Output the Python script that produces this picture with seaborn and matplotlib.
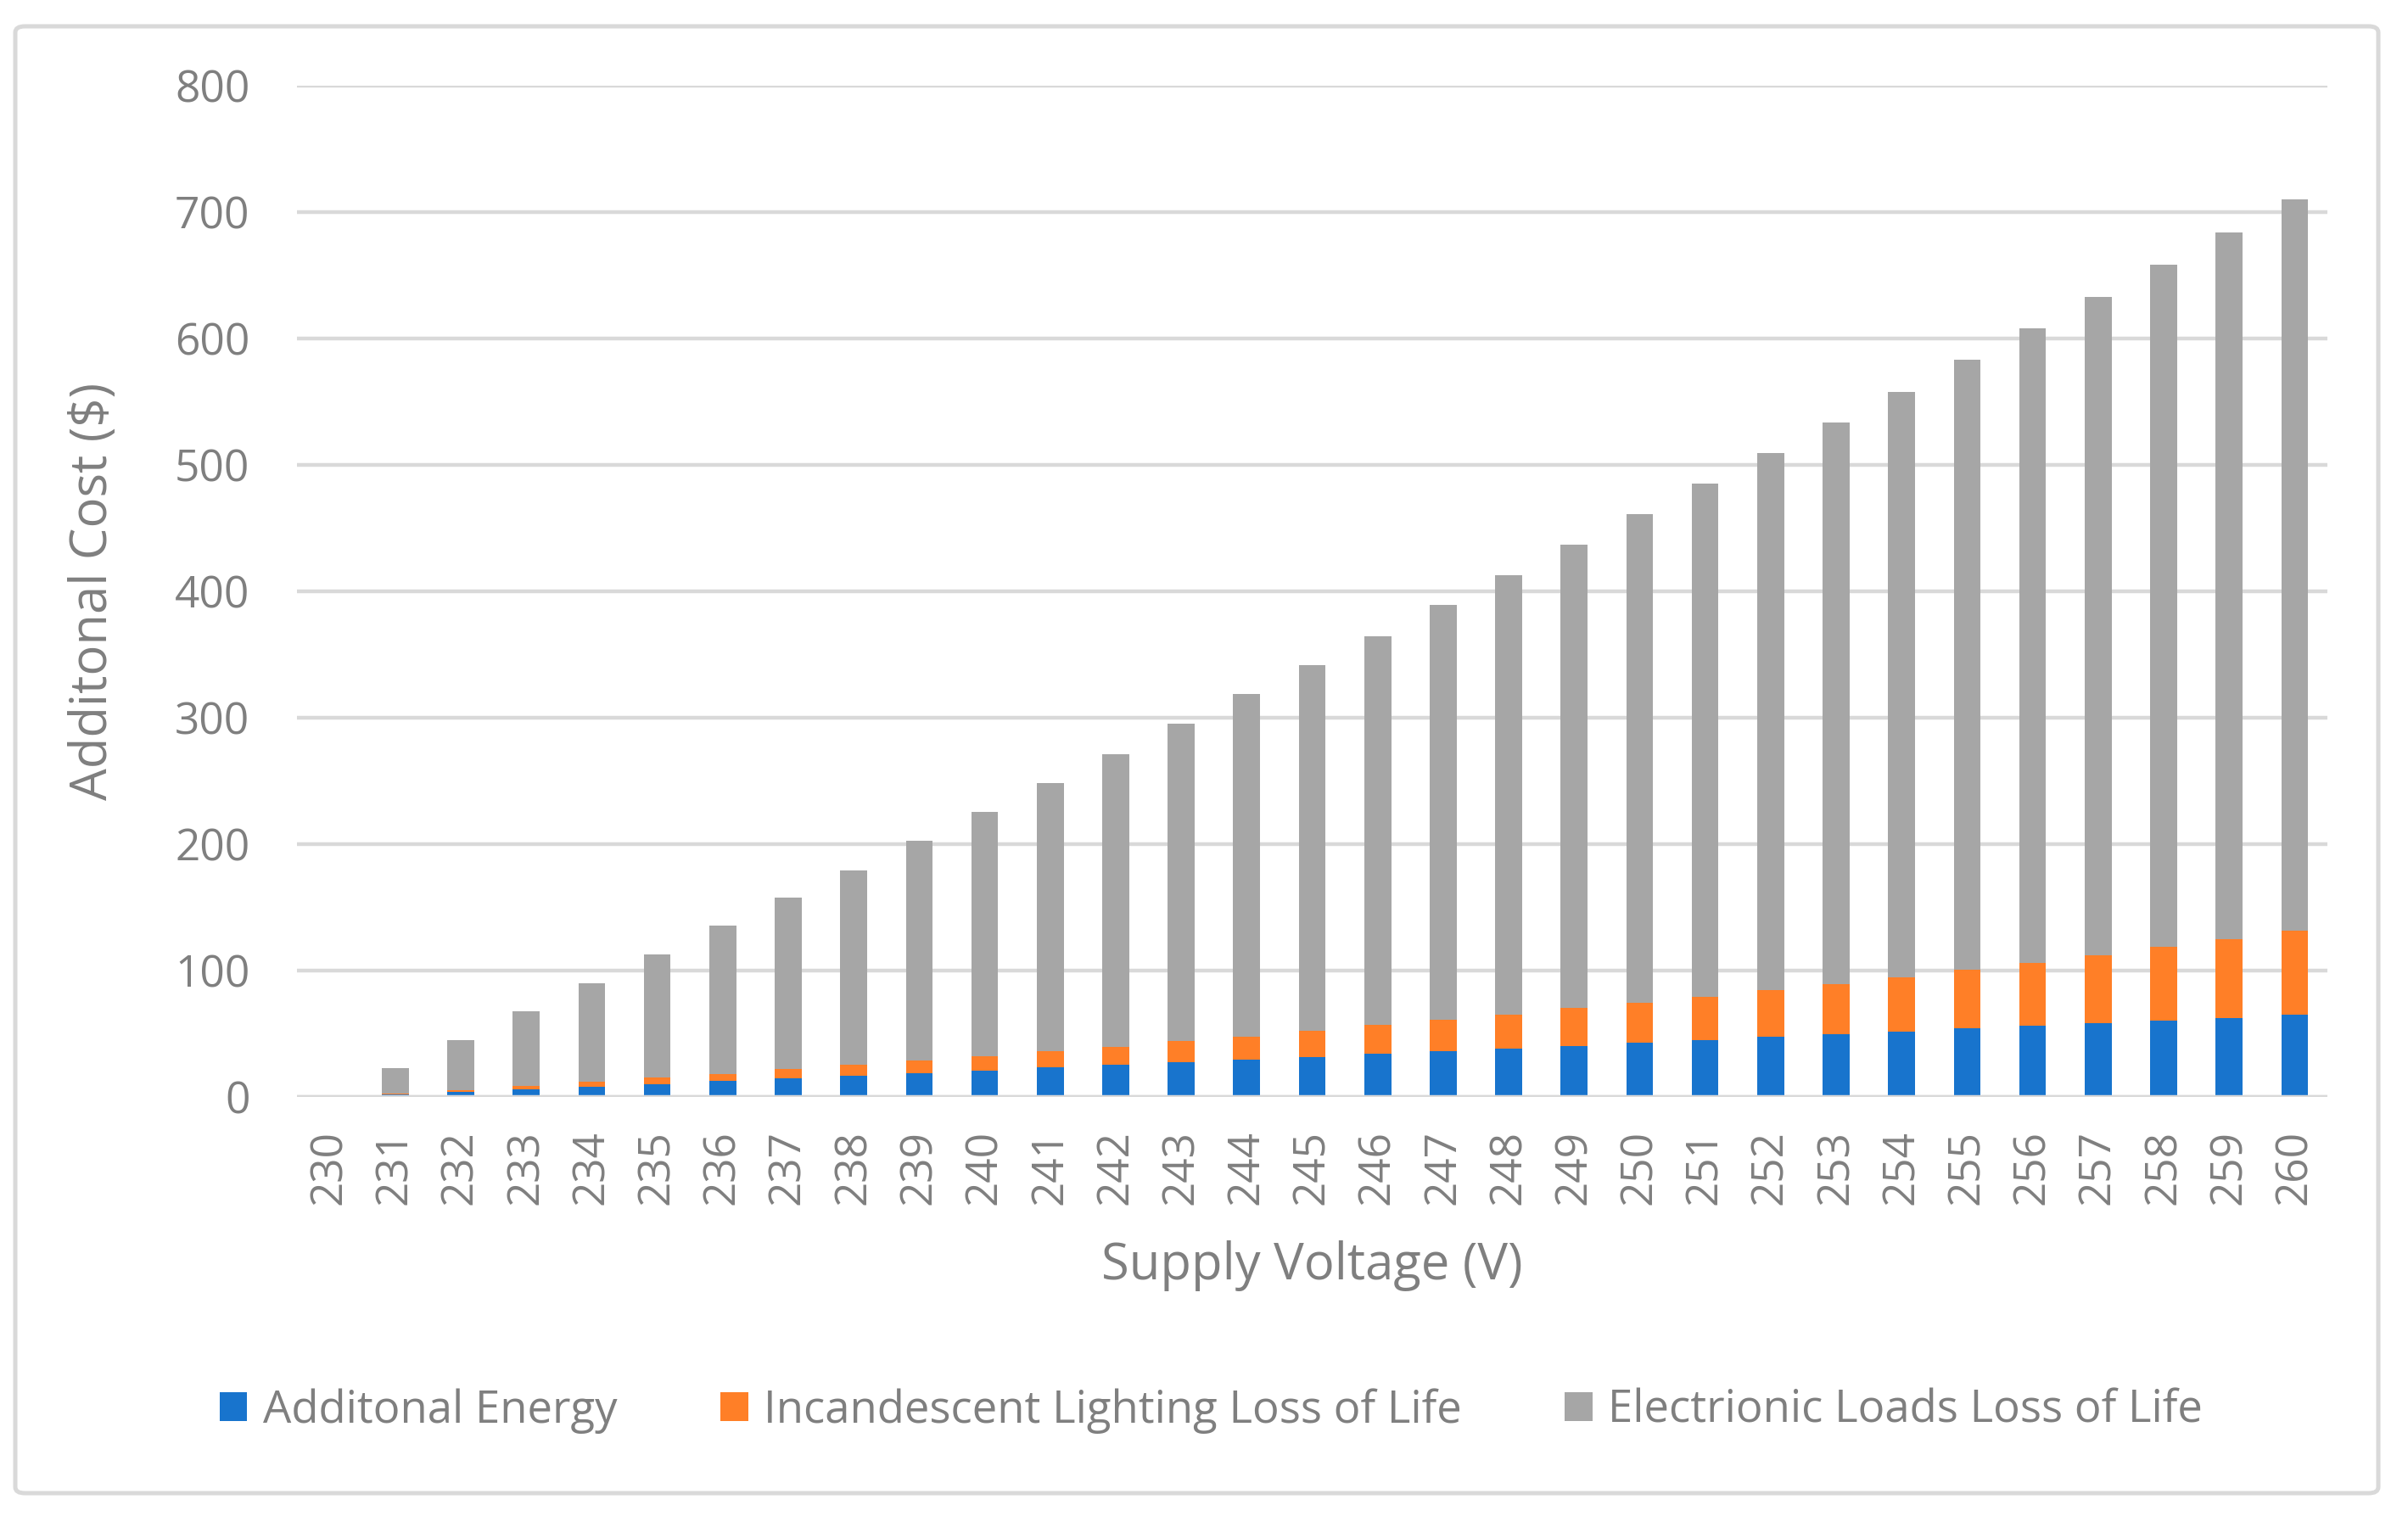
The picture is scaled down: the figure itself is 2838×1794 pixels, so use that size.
import numpy as np
import pandas as pd
import matplotlib
matplotlib.use("Agg")
import matplotlib.pyplot as plt
import seaborn as sns
from matplotlib.patches import Patch, FancyBboxPatch

voltages = [str(v) for v in range(230, 261)]
additional_energy = [0.0, 1.8, 3.8, 5.8, 7.8, 9.8, 12.5, 14.5, 16.6, 18.6, 20.6,
                     23.3, 25.3, 27.3, 29.3, 31.3, 34.0, 36.0, 38.3, 40.0, 43.0,
                     44.7, 47.7, 49.7, 51.7, 54.4, 56.4, 58.4, 60.4, 62.4, 65.1]
incandescent_loss = [0.0, 0.7, 1.3, 2.7, 4.1, 5.4, 5.4, 7.4, 8.7, 10.0, 11.4,
                     12.7, 14.3, 16.8, 18.4, 20.8, 23.0, 25.1, 26.8, 30.5, 31.5,
                     34.3, 36.6, 39.6, 42.9, 46.0, 49.4, 53.7, 58.4, 62.2, 66.2]
electronic_loss = [0.0, 20.1, 39.6, 59.1, 77.8, 97.3, 117.4, 135.6, 154.2, 173.9, 193.4,
                   212.4, 231.7, 251.0, 271.0, 289.5, 307.7, 327.9, 347.5, 366.3, 386.4,
                   406.0, 424.9, 444.0, 462.9, 482.6, 502.0, 520.6, 539.4, 559.1, 578.5]
series_names = ["Additonal Energy", "Incandescent Lighting Loss of Life",
                "Electrionic Loads Loss of Life"]
colors = ["#1874CD", "#FF7F27", "#A6A6A6"]

df = pd.DataFrame({"voltage": voltages,
                   "energy": additional_energy,
                   "incand": incandescent_loss,
                   "elec": electronic_loss})
df["cum1"] = df["energy"]
df["cum2"] = df["energy"] + df["incand"]
df["cum3"] = df["cum2"] + df["elec"]

sns.set_theme(style="white")
plt.rcParams["font.family"] = ["Open Sans", "DejaVu Sans"]
text_color = "#7F7F7F"
grid_color = "#D9D9D9"

W, H, DPI = 2838, 1794, 200
fig = plt.figure(figsize=(W / DPI, H / DPI), dpi=DPI)
ax = fig.add_axes([350 / W, 1 - 1293 / H, (2743 - 350) / W, (1293 - 101) / H])

for col, c in zip(["cum3", "cum2", "cum1"], colors[::-1]):
    sns.barplot(data=df, x="voltage", y=col, color=c, width=0.41,
                saturation=1, ax=ax, zorder=3, linewidth=0)

ax.set_ylim(0, 800)
ax.set_yticks(range(0, 801, 100))
ax.set_xlim(-0.5, len(voltages) - 0.5)
ax.yaxis.grid(True, color=grid_color, linewidth=1.6, zorder=0)
ax.xaxis.grid(False)
ax.axhline(0, color=grid_color, linewidth=1.6, zorder=4)
for s in ax.spines.values():
    s.set_visible(False)
ax.tick_params(axis="both", length=0, colors=text_color, labelsize=18.5)
ax.tick_params(axis="y", pad=20)
ax.tick_params(axis="x", pad=14)
plt.setp(ax.get_xticklabels(), rotation=90)

ax.set_ylabel("Additonal Cost ($)", color=text_color, fontsize=21.5)
ax.set_xlabel("Supply Voltage (V)", color=text_color, fontsize=21.5)
ax.yaxis.set_label_coords((140 - 350) / (2743 - 350), 0.5)
ax.xaxis.set_label_coords(0.5, -(1462 - 1293) / (1293 - 101))

handles = [Patch(facecolor=c, edgecolor="none") for c in colors]
leg = fig.legend(handles, series_names, loc="center", ncol=3,
                 bbox_to_anchor=(0.503, 1 - 1663 / H), frameon=False,
                 fontsize=19, handlelength=0.62, handleheight=0.62,
                 handletextpad=0.35, columnspacing=2.3)
for t in leg.get_texts():
    t.set_color(text_color)

border = FancyBboxPatch((18 / W, 1 - 1760 / H), (2803 - 18) / W, (1760 - 31) / H,
                        boxstyle="round,pad=0,rounding_size=0.004",
                        transform=fig.transFigure, facecolor="none",
                        edgecolor=grid_color, linewidth=1.8)
fig.patches.append(border)

fig.savefig("out.png", dpi=DPI, facecolor="white")
